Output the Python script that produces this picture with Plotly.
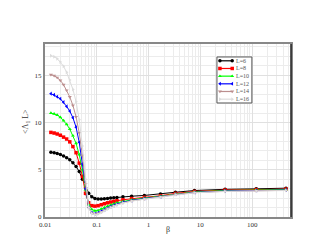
import plotly.graph_objects as go

beta = [0.013, 0.015, 0.0172, 0.0198, 0.0228, 0.0262, 0.0301, 0.0346, 0.0398, 0.0458,
        0.0527, 0.0606, 0.0697, 0.0801, 0.0921, 0.106, 0.122, 0.14, 0.161, 0.185,
        0.213, 0.245, 0.32, 0.47, 0.83, 1.7, 3.3, 7.7, 30, 120, 450]

L6 = [6.85, 6.8, 6.72, 6.6, 6.45, 6.28, 6.05, 5.75, 5.35, 4.8,
      4.0, 3.1, 2.5, 2.15, 1.97, 1.9, 1.9, 1.93, 1.97, 2.0,
      2.04, 2.07, 2.13, 2.2, 2.28, 2.42, 2.62, 2.8, 2.93, 2.98, 3.05]
L8 = [8.95, 8.88, 8.78, 8.65, 8.45, 8.25, 7.95, 7.45, 6.8, 5.7,
      4.3, 2.5, 1.5, 1.2, 1.15, 1.2, 1.3, 1.4, 1.5, 1.58,
      1.65, 1.72, 1.82, 1.95, 2.08, 2.25, 2.5, 2.7, 2.85, 2.9, 2.95]
L10 = [11.0, 10.92, 10.78, 10.55, 10.2, 9.8, 9.3, 8.6, 7.8, 6.6,
       5.0, 2.9, 1.3, 0.8, 0.65, 0.7, 0.85, 1.0, 1.15, 1.28,
       1.4, 1.5, 1.65, 1.82, 2.0, 2.2, 2.45, 2.65, 2.8, 2.85, 2.9]
L12 = [13.05, 12.92, 12.72, 12.5, 12.15, 11.7, 11.2, 10.5, 9.5, 7.9,
       5.6, 3.0, 1.0, 0.45, 0.35, 0.45, 0.6, 0.78, 0.95, 1.1,
       1.23, 1.35, 1.55, 1.75, 1.95, 2.15, 2.4, 2.6, 2.75, 2.8, 2.85]
L14 = [15.05, 14.95, 14.75, 14.45, 14.0, 13.4, 12.7, 11.8, 10.6, 8.9,
       6.5, 3.5, 1.0, 0.4, 0.3, 0.38, 0.52, 0.7, 0.88, 1.03,
       1.17, 1.3, 1.5, 1.7, 1.9, 2.12, 2.38, 2.58, 2.72, 2.77, 2.82]
L16 = [17.05, 16.95, 16.75, 16.4, 15.95, 15.3, 14.5, 13.5, 12.2, 10.3,
       7.5, 4.0, 1.0, 0.35, 0.25, 0.33, 0.48, 0.66, 0.84, 1.0,
       1.14, 1.27, 1.47, 1.68, 1.88, 2.1, 2.36, 2.56, 2.7, 2.75, 2.8]

names = ["L=6", "L=8", "L=10", "L=12", "L=14", "L=16"]
colors = ["#000000", "#ff0000", "#00ff00", "#0000ff", "#bc8f8f", "#dcdcdc"]
symbols = ["circle", "square", "triangle-up", "triangle-left", "triangle-down", "triangle-right"]
series = [L6, L8, L10, L12, L14, L16]

fig = go.Figure()
for nm, c, s, ys in zip(names, colors, symbols, series):
    fig.add_trace(go.Scatter(x=beta, y=ys, name=nm, mode="lines+markers",
                             line=dict(color=c, width=1),
                             marker=dict(color=c, symbol=s, size=3.5),
                             showlegend=False))

# hand-built compact legend on an overlay axis (0..1 in both directions)
leg_x0, leg_x1 = 0.699, 0.841
leg_top, leg_bot = 0.925, 0.659
row_h = (leg_top - leg_bot) / len(names)
fig.add_trace(go.Scatter(x=[leg_x0, leg_x1, leg_x1, leg_x0, leg_x0],
                         y=[leg_bot, leg_bot, leg_top, leg_top, leg_bot],
                         xaxis="x2", yaxis="y2", mode="lines", fill="toself",
                         fillcolor="white", line=dict(color="#555555", width=1),
                         showlegend=False, hoverinfo="skip"))
for i, (nm, c, s) in enumerate(zip(names, colors, symbols)):
    yc = leg_top - row_h * (i + 0.5)
    fig.add_trace(go.Scatter(x=[leg_x0 + 0.012, leg_x0 + 0.062], y=[yc, yc],
                             xaxis="x2", yaxis="y2", mode="lines+markers",
                             line=dict(color=c, width=1.2),
                             marker=dict(color=c, symbol=s, size=3.5),
                             showlegend=False, hoverinfo="skip"))
    fig.add_annotation(x=leg_x0 + 0.07, y=yc, xref="x2", yref="y2", text=nm,
                       showarrow=False, xanchor="left", yanchor="middle",
                       font=dict(family="Liberation Serif", size=6, color="#555555"))

# axis titles
fig.add_annotation(x=0.5, y=-0.075, xref="paper", yref="paper", text="β",
                   showarrow=False, xanchor="center", yanchor="middle",
                   font=dict(family="Liberation Serif", size=8, color="#333333"))
fig.add_annotation(x=-0.077, y=0.55, xref="paper", yref="paper", text="<Λ<sub>1</sub> L>",
                   showarrow=False, textangle=-90, xanchor="center", yanchor="middle",
                   font=dict(family="Liberation Serif", size=8, color="#333333"))

font = dict(family="Liberation Serif", size=7, color="#333333")
fig.update_layout(
    width=319, height=247,
    margin=dict(l=37, r=36, t=36, b=38),
    paper_bgcolor="white", plot_bgcolor="white",
    font=font,
    showlegend=False,
    xaxis=dict(type="log", range=[-2, 2.75],
               tickvals=[0.01, 0.1, 1, 10, 100], ticktext=["0.01", "0.1", "1", "10", "100"],
               showgrid=True, gridcolor="#e0e0e0", gridwidth=1,
               minor=dict(dtick="D1", showgrid=True, gridcolor="#ececec", ticks=""),
               showline=True, linecolor="#888888", linewidth=2, mirror=True,
               ticks="", zeroline=False),
    yaxis=dict(range=[0, 18.3], tickvals=[0, 5, 10, 15],
               showgrid=True, gridcolor="#e0e0e0", gridwidth=1,
               minor=dict(dtick=1, showgrid=True, gridcolor="#ececec", ticks=""),
               showline=True, linecolor="#888888", linewidth=2, mirror=True,
               ticks="", zeroline=False),
    xaxis2=dict(overlaying="x", range=[0, 1], visible=False, fixedrange=True),
    yaxis2=dict(overlaying="y", range=[0, 1], visible=False, fixedrange=True),
)
fig.add_shape(type="line", xref="paper", yref="paper", x0=1, x1=1, y0=0, y1=1,
              line=dict(color="#222222", width=1.5))
fig.write_html("out.html")
